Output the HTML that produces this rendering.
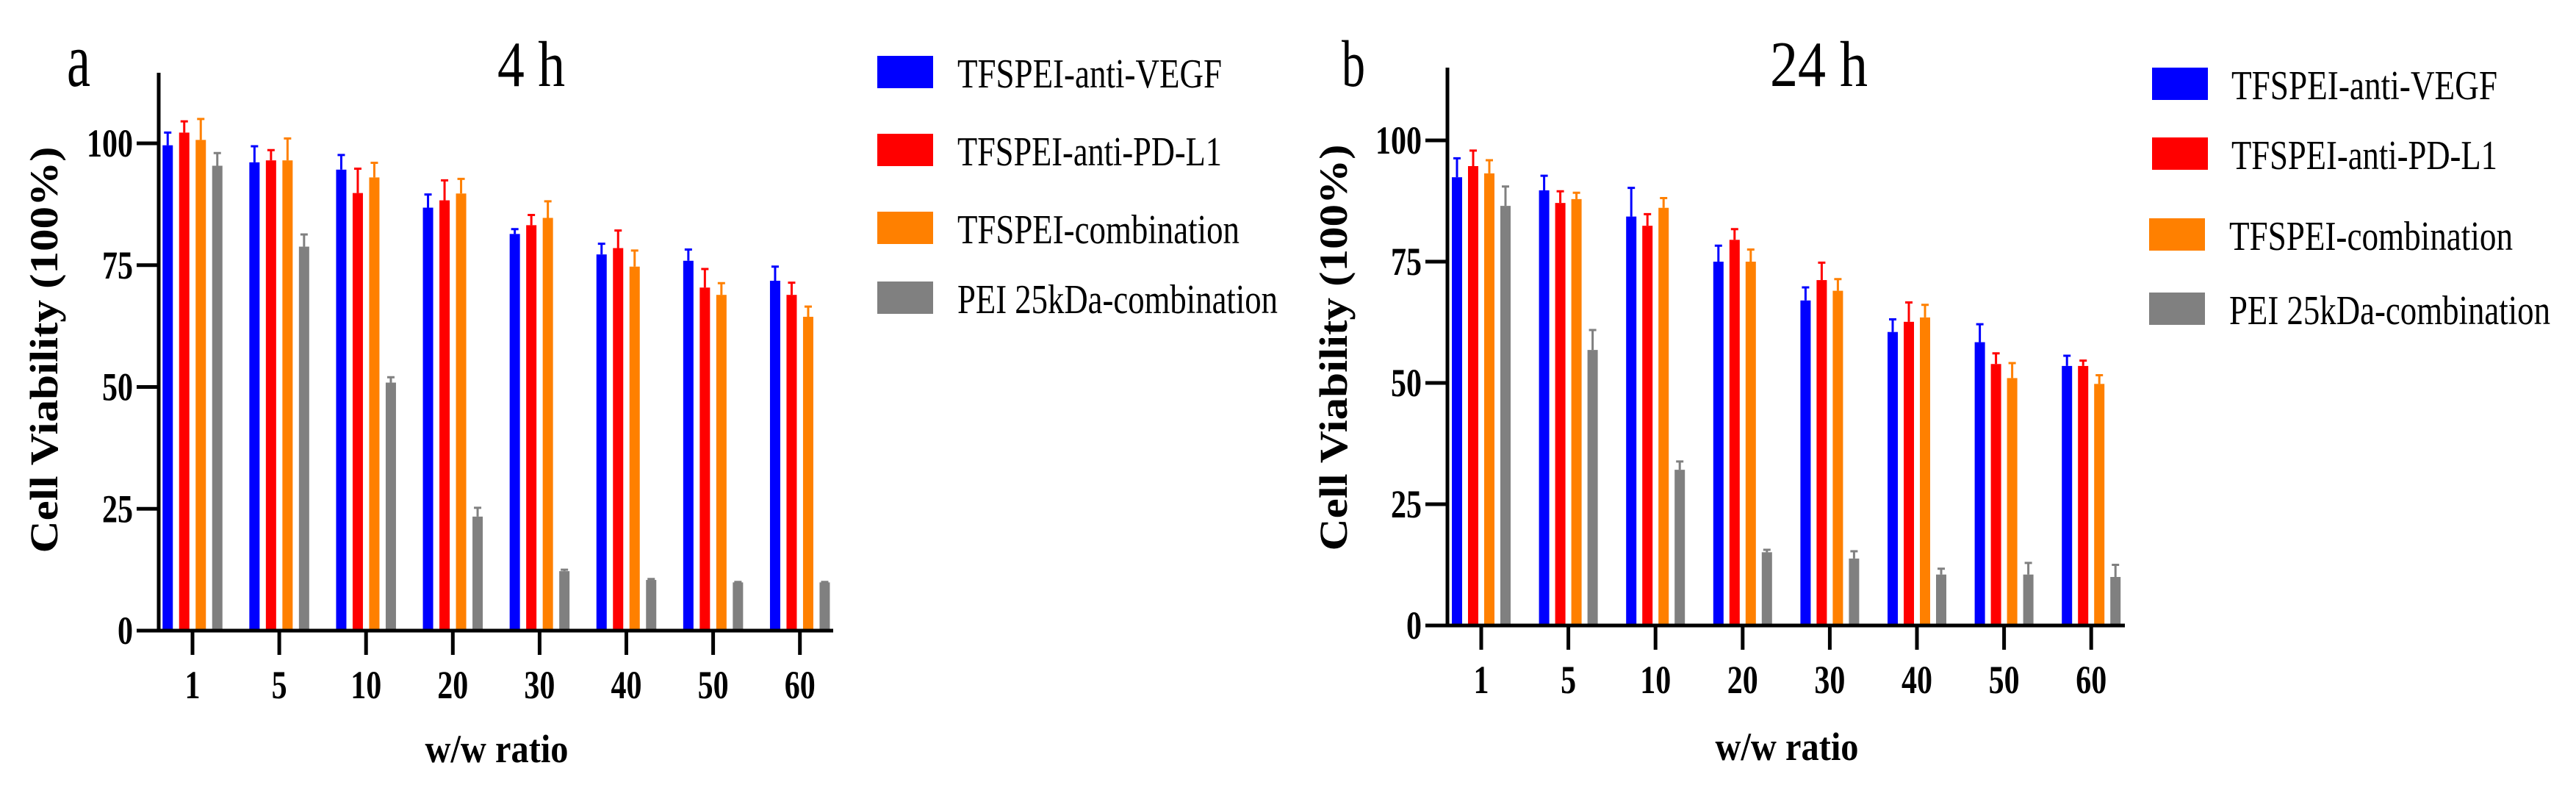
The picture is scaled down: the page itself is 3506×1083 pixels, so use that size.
<!DOCTYPE html>
<html><head><meta charset="utf-8">
<style>
html,body{margin:0;padding:0;background:#fff;}
svg{display:block;}
text{font-family:"Liberation Serif",serif;fill:#000;}
</style></head>
<body>
<svg id="chart" width="3506" height="1083" viewBox="0 0 3506 1083" xmlns="http://www.w3.org/2000/svg"></svg>
<script>
const categories = ["1","5","10","20","30","40","50","60"];
const yTicks = [0,25,50,75,100];
const seriesNames = ["TFSPEI-anti-VEGF","TFSPEI-anti-PD-L1","TFSPEI-combination","PEI 25kDa-combination"];
const seriesColors = ["#0000ff","#ff0000","#ff8000","#808080"];
// Panel a (4 h)
const a_vegf = [99.6,96.1,94.6,86.8,81.4,77.2,75.9,71.8];
const a_vegfErr = [102.2,99.4,97.6,89.5,82.4,79.4,78.2,74.7];
const a_pdl1 = [102.2,96.5,89.8,88.3,83.2,78.5,70.4,68.9];
const a_pdl1Err = [104.5,98.6,94.8,92.4,85.3,82.1,74.2,71.4];
const a_comb = [100.7,96.5,93.0,89.7,84.7,74.7,68.9,64.4];
const a_combErr = [105.0,101.0,96.0,92.7,88.1,78.0,71.3,66.5];
const a_pei = [95.4,78.8,50.9,23.4,12.2,10.4,9.9,9.9];
const a_peiErr = [98.0,81.3,52.0,25.2,12.5,10.6,10.0,10.0];
// Panel b (24 h)
const b_vegf = [92.4,89.7,84.3,75.0,67.0,60.5,58.4,53.5];
const b_vegfErr = [96.3,92.7,90.2,78.3,69.7,63.1,62.1,55.6];
const b_pdl1 = [94.7,87.1,82.4,79.5,71.2,62.6,53.9,53.5];
const b_pdl1Err = [97.9,89.5,84.8,81.7,74.8,66.6,56.1,54.6];
const b_comb = [93.2,87.9,86.1,75.0,69.0,63.5,51.0,49.8];
const b_combErr = [95.9,89.2,88.1,77.5,71.4,66.1,54.1,51.6];
const b_pei = [86.5,56.8,32.1,15.1,13.8,10.5,10.5,10.0];
const b_peiErr = [90.5,60.9,33.8,15.6,15.3,11.7,12.9,12.5];

const svg = document.getElementById('chart');
const NS = 'http://www.w3.org/2000/svg';
function el(tag, attrs, parent){
  const e = document.createElementNS(NS, tag);
  for (const k in attrs) e.setAttribute(k, attrs[k]);
  (parent||svg).appendChild(e);
  return e;
}
function txt(parent, s, x, y, size, weight, anchor, len){
  const t = el('text', {x:x, y:y, 'font-size':size, 'font-weight':weight, 'text-anchor':anchor}, parent);
  if (len) { t.setAttribute('textLength', len); t.setAttribute('lengthAdjust','spacingAndGlyphs'); }
  t.textContent = s;
  return t;
}

function panel(cfg, vals, errs){
  const g = el('g', {});
  
  
  const yScale = v => cfg.y0 - (v/100)*(cfg.y0 - cfg.y100);
  const xScale = i => cfg.cx0 + i*cfg.step;
  // bars
  for (let s=0; s<4; s++){
    for (let i=0; i<categories.length; i++){
      const cx = xScale(i) + (s-1.5)*cfg.barGap;
      const top = yScale(vals[s][i]);
      const r = el('rect', {x:cx-cfg.barW/2, y:top, width:cfg.barW, height:cfg.y0-top, fill:seriesColors[s]}, g);
      
      
      const ey = yScale(errs[s][i]);
      const eb = el('path', {d:`M${cx} ${top} V${ey} M${cx-5} ${ey} H${cx+5}`, stroke:seriesColors[s], 'stroke-width':3, fill:'none'}, g);
      
      
    }
  }
  // axes
  const ya = el('line', {x1:cfg.ax, y1:cfg.yTop, x2:cfg.ax, y2:cfg.y0+2.5, stroke:'#000','stroke-width':5}, g);
  
  
  const xa = el('line', {x1:cfg.ax-30, y1:cfg.y0, x2:cfg.xEnd, y2:cfg.y0, stroke:'#000','stroke-width':5}, g);
  
  
  yTicks.forEach(v=>{
    const y = yScale(v);
    el('line', {x1:cfg.ax-30, y1:y, x2:cfg.ax, y2:y, stroke:'#000','stroke-width':5}, g);
    const t = txt(g, String(v), cfg.ax-35, y+18, 54, 'bold', 'end', String(v).length*21);
    
    
  });
  categories.forEach((c,i)=>{
    const x = xScale(i);
    el('line', {x1:x, y1:cfg.y0, x2:x, y2:cfg.y0+33, stroke:'#000','stroke-width':5}, g);
    const t = txt(g, c, x, cfg.y0+92, 54, 'bold', 'middle', c.length*21);
    
    
  });
  const yt = txt(g, 'Cell Viability (100%)', 0, 0, 54, 'bold', 'middle', 553);
  yt.setAttribute('transform', `translate(${cfg.ytX},${cfg.ytY}) rotate(-90)`);
  
  
  const xt = txt(g, 'w/w ratio', cfg.xtX, cfg.xtY, 54, 'bold', 'middle', 195);
  
  
  const ti = txt(g, cfg.title, cfg.tX, 117, 88, 'normal', 'start', cfg.tW);
  
  
  const pl = txt(g, cfg.letter, cfg.lX, 117, cfg.lSize, 'normal', 'start', 32);
  
  
  // legend
  const lg = el('g', {}, g);
  
  
  for (let s=0; s<4; s++){
    const sw = el('rect', {x:cfg.lgX[s], y:cfg.lgY[s], width:76, height:44, fill:seriesColors[s]}, lg);
    
    
    const lt = txt(lg, seriesNames[s], cfg.lgTX[s], cfg.lgY[s]+43, 56, 'normal', 'start', cfg.lgTW[s]);
    
    
  }
}

panel({id:'a', ax:216, yTop:99, y0:858, y100:195, xEnd:1134, cx0:262, step:118.1, barGap:22.5, barW:14,
  ytX:78, ytY:476, xtX:676, xtY:1037, title:'4 h', tX:677, tW:92, letter:'a', lX:91, lSize:105,
  lgX:[1194,1194,1194,1194], lgY:[76,182,288,383], lgTX:[1303,1303,1303,1303], lgTW:[360,360,384,436]},
  [a_vegf,a_pdl1,a_comb,a_pei],[a_vegfErr,a_pdl1Err,a_combErr,a_peiErr]);

panel({id:'b', ax:1970, yTop:92, y0:851, y100:191, xEnd:2892, cx0:2016, step:118.6, barGap:22, barW:14,
  ytX:1833, ytY:473, xtX:2432, xtY:1034, title:'24 h', tX:2409, tW:133, letter:'b', lX:1826, lSize:90,
  lgX:[2929,2929,2925,2925], lgY:[92,187,297,398], lgTX:[3037,3037,3034,3034], lgTW:[362,362,386,437]},
  [b_vegf,b_pdl1,b_comb,b_pei],[b_vegfErr,b_pdl1Err,b_combErr,b_peiErr]);
</script>
</body></html>
